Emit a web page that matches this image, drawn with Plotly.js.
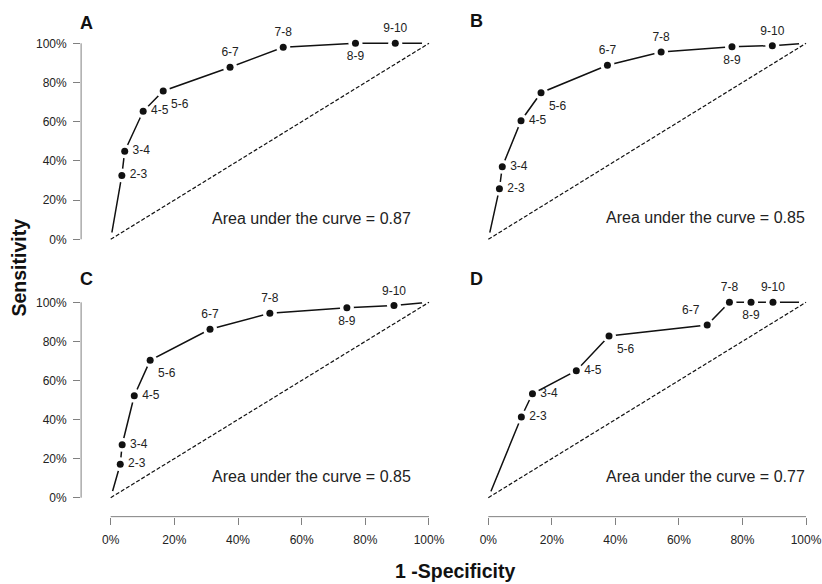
<!DOCTYPE html>
<html><head><meta charset="utf-8">
<script src="https://cdn.plot.ly/plotly-3.0.1.min.js"></script>
<style>html,body{margin:0;padding:0;background:#fff}</style>
</head><body><div id="chart" style="width:822px;height:584px"></div>
<script>
// ---- data ----
const pointLabels = ["2-3","3-4","4-5","5-6","6-7","7-8","8-9","9-10"];
const aSpec = [0.035,0.044,0.102,0.165,0.375,0.542,0.769,0.894];
const aSens = [0.326,0.449,0.653,0.757,0.878,0.980,1.000,1.000];
const bSpec = [0.035,0.044,0.103,0.166,0.375,0.544,0.767,0.894];
const bSens = [0.258,0.370,0.605,0.748,0.888,0.956,0.983,0.988];
const cSpec = [0.030,0.036,0.074,0.124,0.312,0.500,0.742,0.890];
const cSens = [0.171,0.271,0.522,0.703,0.862,0.944,0.972,0.983];
const dSpec = [0.104,0.139,0.277,0.380,0.689,0.759,0.827,0.896];
const dSens = [0.413,0.532,0.650,0.828,0.884,1.000,1.000,1.000];
const panelNames = ["A","B","C","D"];
const aucValues = ["0.87","0.85","0.85","0.77"];
const endSpec = [0, 1];
const endSens = [0, 1];
const tickVals = [0,0.2,0.4,0.6,0.8,1];
const tickLabels = ["0%","20%","40%","60%","80%","100%"];
const xTitle = "1 -Specificity";
const yTitle = "Sensitivity";
const aucPrefix = "Area under the curve = ";

// ---- style / layout config ----
const W = 822, H = 584;
const FONT = "Liberation Sans, Arial, Helvetica, sans-serif";
const posStd = ["middle right","middle right","middle right","bottom right","top center","top center","bottom center","top center"];
const posD   = ["middle right","middle right","middle right","bottom right","top left","top center","bottom center","top center"];
const panels = [
  {spec:aSpec, sens:aSens, pos:posStd, px:[110.7,429.0], py:[239.3,43.3], yTicks:true,  xTicks:false, aucLeft:210, aucY:218.3},
  {spec:bSpec, sens:bSens, pos:posStd, px:[488.3,806.0], py:[239.3,43.3], yTicks:false, xTicks:false, aucLeft:604, aucY:217.7},
  {spec:cSpec, sens:cSens, pos:posStd, px:[110.7,429.0], py:[497.7,302.3], yTicks:true,  xTicks:true,  aucLeft:210, aucY:476.7},
  {spec:dSpec, sens:dSens, pos:posD,   px:[488.3,806.0], py:[497.7,302.3], yTicks:false, xTicks:true,  aucLeft:604, aucY:476.7}
];
const letterPos = [[78,22.5],[468,21],[78,278.5],[468,278.5]];
const XR = [-0.093, 1.04], YR = [-0.097, 1.03];

const traces = [];
const layout = {
  width: W, height: H, margin:{l:0,r:0,t:0,b:0},
  paper_bgcolor:"#fff", plot_bgcolor:"rgba(0,0,0,0)",
  showlegend:false, font:{family:FONT, color:"#222", size:12},
  annotations:[], shapes:[]
};

panels.forEach((p, i) => {
  const sfx = i === 0 ? "" : String(i+1);
  const xa = "x"+sfx, ya = "y"+sfx;
  const sx = p.px[1]-p.px[0], sy = p.py[0]-p.py[1];
  const xL = p.px[0] + XR[0]*sx, xRt = p.px[0] + XR[1]*sx;
  const yB = p.py[0] - YR[0]*sy, yT = p.py[0] - YR[1]*sy;
  layout["xaxis"+sfx] = {
    domain:[xL/W, xRt/W], range:XR, anchor:ya, showgrid:false, zeroline:false, showline:false,
    tickvals:tickVals, ticktext:tickLabels, ticks:p.xTicks?"outside":"", ticklen:7, tickwidth:1, tickcolor:"#808080",
    showticklabels:p.xTicks, tickfont:{family:FONT, size:12, color:"#222"}, ticklabelstandoff:5, fixedrange:true
  };
  layout["yaxis"+sfx] = {
    domain:[1-yB/H, 1-yT/H], range:YR, anchor:xa, showgrid:false, zeroline:false, showline:false,
    tickvals:tickVals, ticktext:tickLabels, ticks:p.yTicks?"outside":"", ticklen:7, tickwidth:1, tickcolor:"#808080",
    showticklabels:p.yTicks, tickfont:{family:FONT, size:12, color:"#222"}, ticklabelstandoff:4, fixedrange:true
  };
  if (p.yTicks) layout.shapes.push({type:"line", xref:xa+" domain", yref:ya, x0:0, x1:0, y0:tickVals[0], y1:tickVals[tickVals.length-1], line:{color:"#808080", width:1}});
  if (p.xTicks) layout.shapes.push({type:"line", xref:xa, yref:ya+" domain", x0:tickVals[0], x1:tickVals[tickVals.length-1], y0:0, y1:0, line:{color:"#808080", width:1}});

  const allX = [endSpec[0], ...p.spec, endSpec[1]];
  const allY = [endSens[0], ...p.sens, endSens[1]];
  traces.push({x:allX, y:allY, xaxis:xa, yaxis:ya, mode:"lines", line:{color:"#111", width:1.5}, hoverinfo:"skip"});
  traces.push({x:allX, y:allY, xaxis:xa, yaxis:ya, mode:"markers", marker:{color:"#fff", size:14}, cliponaxis:false, hoverinfo:"skip"});
  traces.push({x:p.spec, y:p.sens, xaxis:xa, yaxis:ya, mode:"markers", marker:{color:"#111", size:7}, cliponaxis:false, hoverinfo:"skip"});
  traces.push({x:p.spec, y:p.sens, xaxis:xa, yaxis:ya, mode:"markers+text", marker:{color:"rgba(0,0,0,0)", size:11},
    text:pointLabels, textposition:p.pos, textfont:{family:FONT, size:12, color:"#222"}, cliponaxis:false, hoverinfo:"skip"});
  traces.push({x:endSpec, y:endSens, xaxis:xa, yaxis:ya, mode:"lines", line:{color:"#111", width:1.2, dash:"4px,2px"}, hoverinfo:"skip"});

  layout.annotations.push({text:aucPrefix + aucValues[i], xref:"paper", yref:"paper", x:p.aucLeft/W, y:1-p.aucY/H,
    xanchor:"left", yanchor:"middle", showarrow:false, font:{family:FONT, size:16, color:"#222"}});
  layout.annotations.push({text:"<b>"+panelNames[i]+"</b>", xref:"paper", yref:"paper", x:letterPos[i][0]/W, y:1-letterPos[i][1]/H,
    xanchor:"left", yanchor:"middle", showarrow:false, font:{family:FONT, size:18, color:"#111"}});
});

layout.annotations.push({text:"<b>"+yTitle+"</b>", xref:"paper", yref:"paper", x:18/W, y:1-267.5/H, textangle:-90,
  xanchor:"center", yanchor:"middle", showarrow:false, font:{family:FONT, size:19.5, color:"#111"}});
layout.annotations.push({text:"<b>"+xTitle+"</b>", xref:"paper", yref:"paper", x:455.5/W, y:1-571/H,
  xanchor:"center", yanchor:"middle", showarrow:false, font:{family:FONT, size:19.5, color:"#111"}});

Plotly.newPlot("chart", traces, layout, {displayModeBar:false, staticPlot:true});
</script></body></html>
